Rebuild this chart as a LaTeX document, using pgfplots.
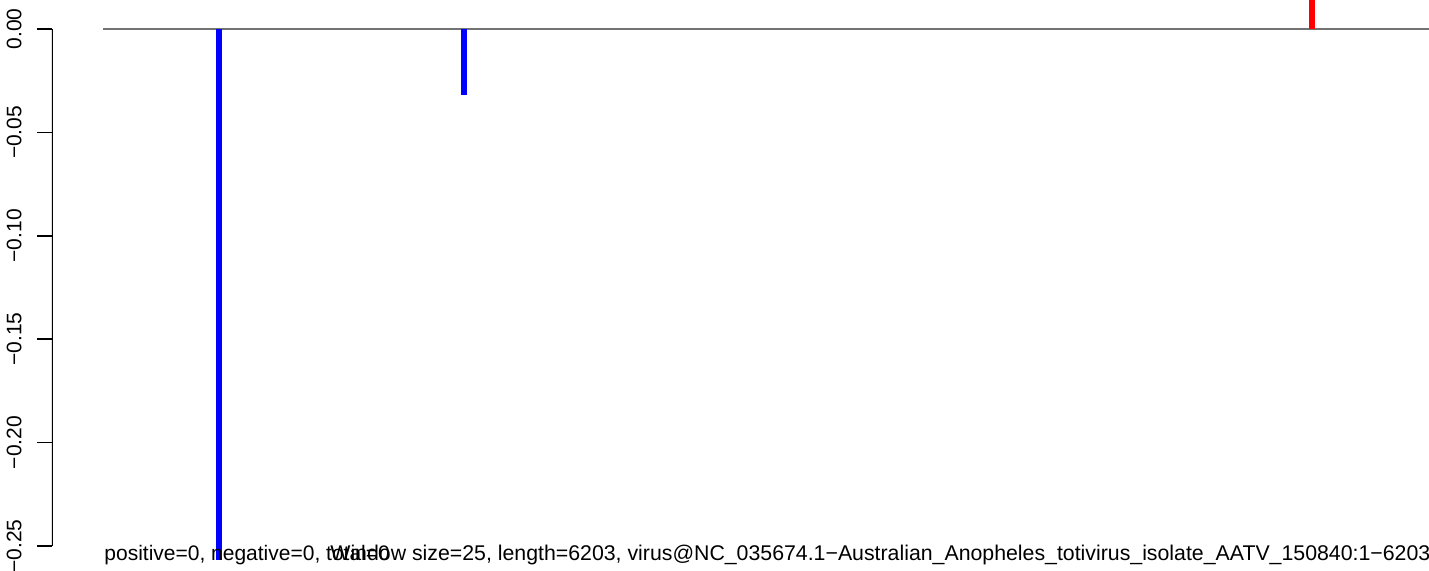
\documentclass[border=0pt]{standalone}
\usepackage{pgfplots}
\pgfplotsset{compat=1.18}
\usepackage{fontspec}
\setmainfont{Liberation Sans}
\definecolor{hline}{gray}{0.45}
\begin{document}
\begin{tikzpicture}
\begin{axis}[
  scale only axis,
  width=688.5pt, height=285.5pt,
  xmin=52, xmax=1429,
  ymin=-0.26209, ymax=0.014023,
  axis x line=none,
  axis y line*=left,
  y axis line style={draw=none},
  ytick={-0.25,-0.20,-0.15,-0.10,-0.05,0},
  yticklabels={−0.25,−0.20,−0.15,−0.10,−0.05,0.00},
  yticklabel style={rotate=90, anchor=south, inner sep=0pt, font=\fontsize{10.5}{12}\selectfont},
  yticklabel shift=7.5pt,
  tick align=outside,
  major tick length=7.5pt,
  tick style={black, line width=0.8pt},
  clip=true,
]
\draw[black, line width=0.8pt] (axis cs:52,0) -- (axis cs:52,-0.25);
\addplot[draw=hline, line width=0.9pt, forget plot] coordinates {(103,0) (1500,0)};
\addplot[blue, line width=2.85pt, line cap=butt, forget plot] coordinates {(219,0) (219,-0.2568)};
\addplot[blue, line width=2.85pt, line cap=butt, forget plot] coordinates {(464,0) (464,-0.0318)};
\addplot[red, line width=2.85pt, line cap=butt, forget plot] coordinates {(1312,0) (1312,0.03)};
\node[anchor=base west, inner sep=0pt, font=\fontsize{10.5}{12}\selectfont] at (axis cs:104,-0.25725) {positive=0, negative=0, total=0};
\node[anchor=base west, inner sep=0pt, font=\fontsize{10.65}{12}\selectfont] at (axis cs:330,-0.25725) {Window size=25, length=6203, virus@NC\_035674.1−Australian\_Anopheles\_totivirus\_isolate\_AATV\_150840:1−6203};
\coordinate (bbsw) at (axis cs:0,-0.26209);
\coordinate (bbne) at (axis cs:1429,0.014023);
\end{axis}
\pgfresetboundingbox
\useasboundingbox (bbsw) rectangle (bbne);
\end{tikzpicture}
\end{document}
